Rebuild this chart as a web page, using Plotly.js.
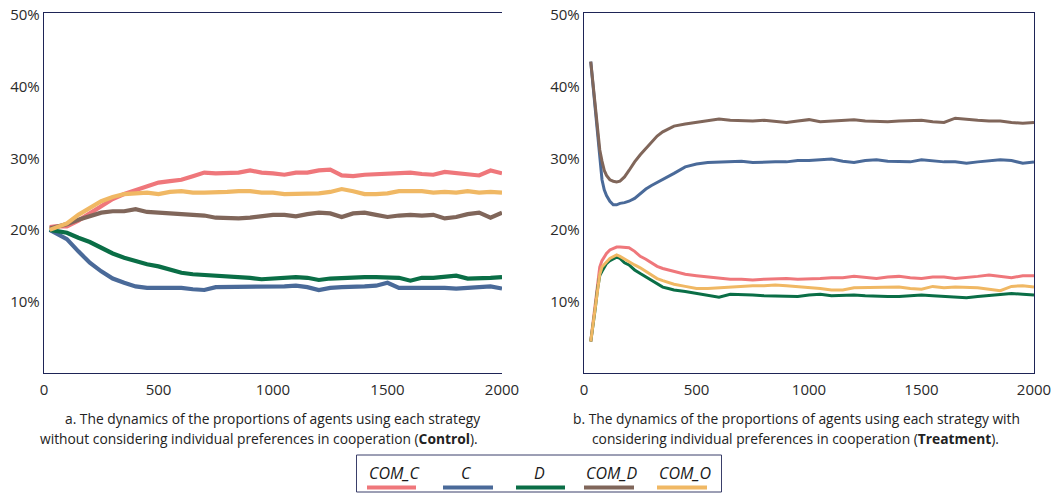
<!DOCTYPE html>
<html><head><meta charset="utf-8">
<script src="https://cdn.plot.ly/plotly-3.0.1.min.js"></script>
<style>html,body{margin:0;padding:0;background:#fff;}#chart{width:1062px;height:493px;}</style>
</head><body><div id="chart"></div>
<script>
// ---- data ----
const seriesNames = ["COM_C", "C", "D", "COM_D", "COM_O"];
const seriesColors = ["#EF777B", "#4A6A99", "#0A6E46", "#80665A", "#F0B864"];
const xTicks = [0, 500, 1000, 1500, 2000];
const yTicks = [10, 20, 30, 40, 50];
const yTickLabels = ["10%", "20%", "30%", "40%", "50%"];

// Panel a (Control)
const leftSteps = [25,50,100,150,200,250,300,350,400,450,500,550,600,650,700,750,800,850,900,950,1000,1050,1100,1150,1200,1250,1300,1350,1400,1450,1500,1550,1600,1650,1700,1750,1800,1850,1900,1950,2000];
const leftComC = [20.4,20.5,20.5,21.3,22.3,23.3,24.3,25.0,25.5,26.1,26.6,26.8,27.0,27.5,28.0,27.9,27.9,28.0,28.3,28.0,27.9,27.7,28.0,28.0,28.3,28.4,27.6,27.5,27.7,27.8,27.9,27.9,28.0,27.8,27.7,28.1,27.9,27.8,27.6,28.3,27.9];
const leftC    = [20.0,19.6,18.7,17.0,15.4,14.2,13.2,12.6,12.1,11.9,11.9,12.0,11.9,11.7,11.6,12.0,12.0,12.0,12.0,12.1,12.1,12.1,12.2,12.0,11.6,11.9,12.0,12.0,12.1,12.2,12.6,11.9,11.9,12.0,12.0,11.9,11.8,11.9,12.1,12.1,11.8];
const leftD    = [20.0,19.9,19.6,18.9,18.3,17.5,16.7,16.1,15.6,15.2,14.9,14.4,14.0,13.8,13.7,13.6,13.6,13.4,13.3,13.1,13.2,13.4,13.4,13.3,13.0,13.2,13.3,13.4,13.4,13.4,13.3,13.3,12.9,13.3,13.3,13.4,13.6,13.2,13.2,13.3,13.4];
const leftComD = [20.2,20.4,20.8,21.4,21.9,22.4,22.6,22.6,22.9,22.5,22.4,22.3,22.3,22.1,22.0,21.7,21.6,21.6,21.7,21.9,22.1,22.1,21.9,22.2,22.4,22.3,21.8,22.3,22.4,22.1,21.8,22.0,22.1,22.0,22.1,21.6,21.8,22.2,22.4,21.7,22.4];
const leftComO = [20.0,20.3,20.9,22.1,23.1,24.0,24.6,25.0,25.1,25.2,25.0,25.3,25.4,25.2,25.2,25.2,25.3,25.4,25.4,25.2,25.2,25.0,25.0,25.0,25.1,25.3,25.7,25.4,25.0,25.0,25.1,25.4,25.4,25.4,25.2,25.3,25.2,25.4,25.2,25.3,25.2];

// Panel b (Treatment)
const rightSteps = [30,40,50,60,70,80,90,100,115,130,145,160,180,200,225,250,275,300,325,350,375,400,450,500,550,600,650,700,750,800,850,900,950,1000,1050,1100,1150,1200,1250,1300,1350,1400,1450,1500,1550,1600,1650,1700,1750,1800,1850,1900,1950,2000];
const rightComC = [4.4,7.0,10.0,12.8,14.8,15.7,16.3,16.7,17.2,17.4,17.6,17.6,17.6,17.5,17.0,16.3,15.9,15.4,14.9,14.6,14.4,14.2,13.8,13.6,13.4,13.2,13.1,13.1,13.0,13.1,13.2,13.2,13.1,13.1,13.2,13.3,13.3,13.5,13.4,13.2,13.4,13.5,13.3,13.2,13.4,13.4,13.2,13.3,13.5,13.7,13.5,13.3,13.6,13.6];
const rightC    = [43.5,40.0,36.6,33.0,29.5,27.0,25.6,24.8,24.0,23.5,23.5,23.7,23.8,24.0,24.4,25.1,25.7,26.2,26.6,27.0,27.4,27.9,28.8,29.2,29.4,29.5,29.6,29.6,29.4,29.5,29.5,29.5,29.7,29.7,29.8,29.9,29.6,29.4,29.7,29.8,29.6,29.6,29.5,29.8,29.6,29.5,29.5,29.3,29.5,29.6,29.8,29.7,29.3,29.5];
const rightD    = [4.4,6.5,9.0,11.7,13.6,14.2,14.8,15.3,15.7,16.0,16.2,16.0,15.4,15.1,14.4,13.9,13.4,12.9,12.4,12.0,11.8,11.6,11.4,11.1,10.9,10.6,11.0,11.0,10.9,10.8,10.8,10.7,10.7,10.9,11.0,10.8,10.9,10.9,10.8,10.7,10.7,10.7,10.8,10.9,10.8,10.7,10.6,10.5,10.7,10.8,10.9,11.1,11.0,10.9];
const rightComD = [43.5,40.3,36.8,33.5,31.2,29.6,28.3,27.6,27.0,26.8,26.7,26.8,27.4,28.3,29.5,30.5,31.4,32.3,33.1,33.7,34.1,34.5,34.8,35.0,35.2,35.5,35.3,35.2,35.2,35.3,35.2,35.0,35.2,35.4,35.1,35.2,35.2,35.4,35.2,35.1,35.1,35.2,35.3,35.3,35.1,35.0,35.6,35.4,35.3,35.2,35.2,35.0,34.9,35.0];
const rightComO = [4.4,6.8,9.6,12.0,13.8,14.8,15.2,15.5,16.0,16.3,16.5,16.3,15.9,15.6,15.1,14.7,14.2,13.7,13.2,12.9,12.6,12.4,12.1,11.8,11.8,11.9,12.1,12.1,12.2,12.2,12.3,12.2,12.1,12.0,11.8,11.6,11.6,11.9,11.9,11.9,11.9,12.0,11.8,11.7,12.1,11.9,12.0,12.0,11.9,11.7,11.5,12.1,12.2,12.0];

const captionA1 = "a. The dynamics of the proportions of agents using each strategy";
const captionA2 = "without considering individual preferences in cooperation (<b>Control</b>).";
const captionB1 = "b. The dynamics of the proportions of agents using each strategy with";
const captionB2 = "considering individual preferences in cooperation (<b>Treatment</b>).";

// ---- layout helpers ----
const W = 1062, H = 493;
const fx = p => p / W;
const fy = p => 1 - p / H;
const FONT = "Open Sans, Noto Sans, sans-serif";
const AXCOL = "#1E2456";

const leftSeries = [leftComC, leftC, leftD, leftComD, leftComO];
const rightSeries = [rightComC, rightC, rightD, rightComD, rightComO];
const traces = [];
seriesNames.forEach((n, i) => {
  traces.push({x: leftSteps, y: leftSeries[i], type: "scatter", mode: "lines", name: n,
    line: {color: seriesColors[i], width: 4.2}, xaxis: "x", yaxis: "y", showlegend: false});
});
seriesNames.forEach((n, i) => {
  traces.push({x: rightSteps, y: rightSeries[i], type: "scatter", mode: "lines", name: n,
    line: {color: seriesColors[i], width: 3}, xaxis: "x2", yaxis: "y2", showlegend: false});
});

const axBase = {showgrid: false, zeroline: false, showline: true, linecolor: AXCOL, linewidth: 1.3,
  ticks: "", tickfont: {family: FONT, size: 15, color: "#2a2a2a"}, fixedrange: true};

// legend drawn as text + coloured bars
const legendText = [395, 466, 539, 612, 685];
const legendBar = [[367,416],[443,493],[516,565],[584,634],[657,707]];
const shapes = [{type: "rect", xref: "paper", yref: "paper", x0: fx(356.5), x1: fx(721.5), y0: fy(492), y1: fy(455),
  line: {color: "#3a3f6a", width: 1}, fillcolor: "rgba(0,0,0,0)"}];
const annotations = [];
seriesNames.forEach((n, i) => {
  shapes.push({type: "line", xref: "paper", yref: "paper", x0: fx(legendBar[i][0]), x1: fx(legendBar[i][1]),
    y0: fy(487.5), y1: fy(487.5), line: {color: seriesColors[i], width: 4}});
  annotations.push({xref: "paper", yref: "paper", x: fx(legendText[i]), y: fy(473), xanchor: "center", yanchor: "middle",
    showarrow: false, text: "<i>" + n + "</i>", font: {family: FONT, size: 16, color: "#1a1a1a"}});
});
[[captionA1, 272, 418],[captionA2, 259, 438],[captionB1, 796, 418],[captionB2, 795, 438]].forEach(c => {
  annotations.push({xref: "paper", yref: "paper", x: fx(c[1]), y: fy(c[2]), xanchor: "center", yanchor: "middle",
    showarrow: false, text: c[0], font: {family: FONT, size: 13.8, color: "#222"}});
});

const layout = {
  width: W, height: H, margin: {l: 0, r: 0, t: 0, b: 0},
  paper_bgcolor: "#fff", plot_bgcolor: "#fff", showlegend: false,
  xaxis: Object.assign({}, axBase, {domain: [fx(44), fx(502)], range: [0, 2000], tickvals: xTicks, mirror: true, anchor: "y", ticklabelstandoff: 3}),
  yaxis: Object.assign({}, axBase, {domain: [fy(373), fy(13)], range: [0, 50.3], tickvals: yTicks, ticktext: yTickLabels, mirror: false, anchor: "x"}),
  xaxis2: Object.assign({}, axBase, {domain: [fx(584), fx(1034)], range: [0, 2000], tickvals: xTicks, mirror: true, anchor: "y2", ticklabelstandoff: 3}),
  yaxis2: Object.assign({}, axBase, {domain: [fy(373), fy(13)], range: [0, 50.3], tickvals: yTicks, ticktext: yTickLabels, mirror: true, anchor: "x2"}),
  shapes: shapes, annotations: annotations
};
Plotly.newPlot("chart", traces, layout, {displayModeBar: false, staticPlot: true});
</script></body></html>
